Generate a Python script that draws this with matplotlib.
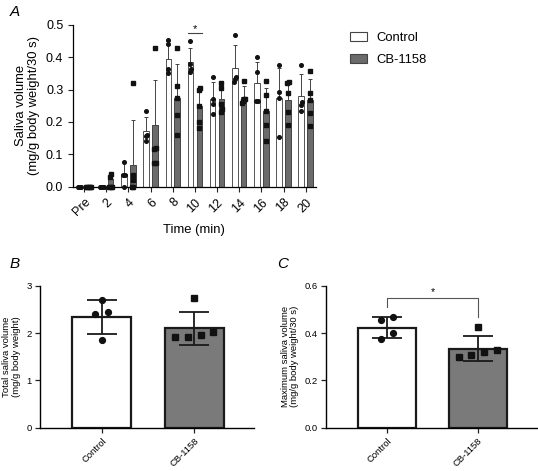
import matplotlib.pyplot as plt
import numpy as np
from matplotlib.patches import Patch

plt.rcParams['font.family'] = ['Liberation Sans', 'DejaVu Sans']

# panel A: saliva volume over time
times = ['Pre', '2', '4', '6', '8', '10', '12', '14', '16', '18', '20']
ctrl_mean = [0.0, 0.0, 0.038, 0.172, 0.394, 0.385, 0.272, 0.367, 0.32, 0.274, 0.281]
ctrl_sd = [0.0, 0.0, 0.037, 0.042, 0.056, 0.045, 0.052, 0.07, 0.065, 0.093, 0.067]
cb_mean = [0.0, 0.022, 0.066, 0.19, 0.275, 0.25, 0.272, 0.276, 0.234, 0.269, 0.269]
cb_sd = [0.0, 0.017, 0.14, 0.14, 0.105, 0.055, 0.048, 0.035, 0.072, 0.058, 0.065]
ctrl_pts = [
    [0.0, 0.0, 0.0, 0.0],
    [0.0, 0.0, 0.0, 0.0],
    [0.077, 0.037, 0.037, 0.0],
    [0.235, 0.16, 0.155, 0.14],
    [0.453, 0.44, 0.365, 0.35],
    [0.45, 0.38, 0.365, 0.355],
    [0.339, 0.272, 0.256, 0.225],
    [0.47, 0.339, 0.333, 0.325],
    [0.40, 0.355, 0.266, 0.266],
    [0.377, 0.291, 0.274, 0.153],
    [0.377, 0.263, 0.253, 0.235],
]
cb_pts = [
    [0.0, 0.0, 0.0, 0.0, 0.0],
    [0.039, 0.03, 0.0, 0.0, 0.0],
    [0.32, 0.037, 0.02, 0.0, 0.0],
    [0.43, 0.12, 0.115, 0.073, 0.073],
    [0.43, 0.31, 0.22, 0.16, 0.275],
    [0.305, 0.30, 0.2, 0.18, 0.25],
    [0.32, 0.305, 0.256, 0.24, 0.232],
    [0.328, 0.27, 0.266, 0.26, 0.27],
    [0.328, 0.282, 0.191, 0.142, 0.234],
    [0.325, 0.32, 0.29, 0.23, 0.19],
    [0.358, 0.29, 0.268, 0.229, 0.188],
]

# panels B and C
groups = ['Control', 'CB-1158']
total_mean = [2.34, 2.10]
total_sd = [0.36, 0.35]
total_ctrl = [2.70, 2.45, 2.40, 1.85]
total_cb = [2.75, 1.97, 1.92, 1.92, 2.03]
max_mean = [0.423, 0.334]
max_sd = [0.045, 0.052]
max_ctrl = [0.47, 0.455, 0.40, 0.376]
max_cb = [0.428, 0.327, 0.32, 0.301, 0.309]

CB_GREY_A = '#6b6b6b'
CB_GREY = '#7a7a7a'


def spread(vals, step, tol):
    # simple swarm: points with close values are placed side by side
    vals = np.asarray(vals, float)
    order = np.argsort(vals, kind='stable')
    offs = np.zeros(len(vals))
    i = 0
    while i < len(order):
        j = i
        while j + 1 < len(order) and vals[order[j + 1]] - vals[order[j]] < tol:
            j += 1
        k = j - i + 1
        offs[order[i:j + 1]] = (np.arange(k) - (k - 1) / 2) * step
        i = j + 1
    return offs


fig = plt.figure(figsize=(5.38, 4.71), dpi=100)

# ---------------- A ----------------
axA = fig.add_axes([0.1357, 0.604, 0.451, 0.343])
x = np.arange(len(times))
w = 0.25
d = 0.2
axA.bar(x - d, ctrl_mean, w, color='white', edgecolor='#555555', linewidth=0.7, zorder=2)
axA.bar(x + d, cb_mean, w, color=CB_GREY_A, edgecolor='#444444', linewidth=0.7, zorder=2)
axA.errorbar(x - d, ctrl_mean, yerr=[np.zeros(len(x)), ctrl_sd], fmt='none',
             ecolor='#444444', elinewidth=0.7, capsize=1.5, capthick=0.7, zorder=3)
axA.errorbar(x + d, cb_mean, yerr=[np.zeros(len(x)), cb_sd], fmt='none',
             ecolor='#444444', elinewidth=0.7, capsize=1.5, capthick=0.7, zorder=3)
for i in range(len(times)):
    xo = spread(ctrl_pts[i], 0.055, 0.012)
    axA.plot(i - d + xo, ctrl_pts[i], 'o', ms=2.6, color='#111111', zorder=4, clip_on=False)
    xo = spread(cb_pts[i], 0.055, 0.012)
    axA.plot(i + d + xo, cb_pts[i], 's', ms=2.7, color='#111111', zorder=4, clip_on=False)

axA.set_xlim(-0.5, 10.45)
axA.set_ylim(0, 0.5)
axA.set_yticks(np.arange(0, 0.51, 0.1))
axA.set_yticklabels(['0.0', '0.1', '0.2', '0.3', '0.4', '0.5'])
axA.set_xticks(x)
axA.set_xticklabels(times, rotation=45, ha='right', rotation_mode='anchor')
axA.tick_params(labelsize=9, width=0.8, length=3.5, color='#222222')
for s in ['top', 'right']:
    axA.spines[s].set_visible(False)
for s in ['left', 'bottom']:
    axA.spines[s].set_linewidth(0.9)
axA.set_xlabel('Time (min)', fontsize=9.4, labelpad=4)
axA.set_ylabel('Saliva volume\n(mg/g body weight/30 s)', fontsize=9.4, labelpad=4,
               linespacing=1.1)
# significance at 10 min
axA.plot([5 - 0.32, 5 + 0.32], [0.474, 0.474], color='#444444', lw=0.8, clip_on=False)
axA.text(5, 0.488, '*', ha='center', va='center', fontsize=8)

legend_handles = [Patch(facecolor='white', edgecolor='#444444', linewidth=0.8, label='Control'),
                  Patch(facecolor=CB_GREY_A, edgecolor='#444444', linewidth=0.8, label='CB-1158')]
fig.legend(handles=legend_handles, loc='upper left', bbox_to_anchor=(0.628, 0.958),
           frameon=False, fontsize=9.4, handlelength=1.35, handleheight=0.75,
           handletextpad=0.7, labelspacing=0.75)

fig.text(0.018, 0.99, 'A', fontsize=11, style='italic', va='top')


# ---------------- B and C ----------------
def summary_panel(ax, means, sds, pts_c, pts_cb, step, tol):
    xs = np.arange(len(groups))
    ax.bar(xs, means, 0.64, color=['white', CB_GREY], edgecolor='#1a1a1a',
           linewidth=1.6, zorder=2)
    ax.errorbar(xs, means, yerr=sds, fmt='none', ecolor='#1a1a1a', elinewidth=1.3,
                capsize=11, capthick=1.3, zorder=3)
    ax.plot(0 + spread(pts_c, step, tol), pts_c, 'o', ms=4.2, color='#111111', zorder=4)
    ax.plot(1 + spread(pts_cb, step, tol), pts_cb, 's', ms=4.2, color='#111111', zorder=4)
    ax.set_xlim(-0.67, 1.65)
    ax.set_xticks(xs)
    ax.set_xticklabels(groups, rotation=45, ha='right', rotation_mode='anchor')
    ax.tick_params(labelsize=6.8, width=0.9, length=3.5, color='#222222', pad=2.5)
    for s in ['top', 'right']:
        ax.spines[s].set_visible(False)
    for s in ['left', 'bottom']:
        ax.spines[s].set_linewidth(1.0)


axB = fig.add_axes([0.0743, 0.092, 0.398, 0.301])
summary_panel(axB, total_mean, total_sd, total_ctrl, total_cb, 0.14, 0.12)
axB.set_ylim(0, 3)
axB.set_yticks([0, 1, 2, 3])
axB.set_ylabel('Total saliva volume\n(mg/g body weight)', fontsize=6.8, labelpad=4,
               linespacing=1.05)
fig.text(0.018, 0.455, 'B', fontsize=11, style='italic', va='top')

axC = fig.add_axes([0.606, 0.092, 0.392, 0.301])
summary_panel(axC, max_mean, max_sd, max_ctrl, max_cb, 0.14, 0.03)
axC.set_ylim(0, 0.6)
axC.set_yticks([0, 0.2, 0.4, 0.6])
axC.set_yticklabels(['0.0', '0.2', '0.4', '0.6'])
axC.set_ylabel('Maximum saliva volume\n(mg/g body weight/30 s)', fontsize=6.8, labelpad=4,
               linespacing=1.05)
axC.plot([0, 0, 1, 1], [0.51, 0.548, 0.548, 0.468], color='#555555', lw=0.8, zorder=1)
axC.text(0.5, 0.575, '*', ha='center', va='center', fontsize=7.5)
fig.text(0.515, 0.455, 'C', fontsize=11, style='italic', va='top')

fig.savefig('out.png', dpi=100)
